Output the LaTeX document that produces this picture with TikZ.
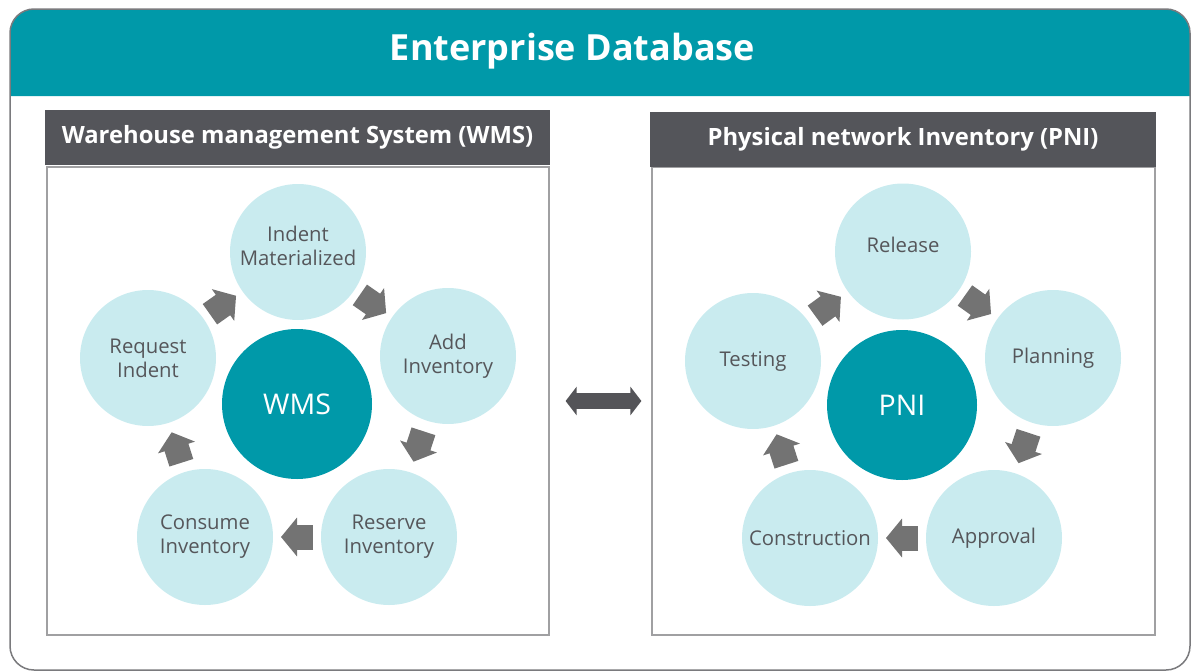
\documentclass[tikz,border=0pt]{standalone}
\usepackage{fontspec}
\setmainfont{Open Sans}
\usetikzlibrary{arrows.meta,calc}

\definecolor{dbteal}{HTML}{0099A9}
\definecolor{stagefill}{HTML}{C9EBEF}
\definecolor{stagetext}{HTML}{55565A}
\definecolor{headgray}{HTML}{54555A}
\definecolor{flowgray}{HTML}{737373}
\definecolor{linkgray}{HTML}{545458}
\definecolor{framegray}{HTML}{7A7A7D}
\definecolor{boxgray}{HTML}{A0A0A2}

\begin{document}
\begin{tikzpicture}[x=1pt,y=-1pt,
  stagefont/.style={align=center, text=stagetext,
    font=\fontsize{20.3}{24}\selectfont},
  stage/.style={circle, fill=stagefill, minimum size=136pt, inner sep=0pt,
    stagefont},
  % circles whose caption sits a little above the centre
  lifted/.style={label={[stagefont, yshift=6.5pt]center:{#1}}},
  hub/.style={circle, fill=dbteal, minimum size=150pt, inner sep=0pt,
    text=white, font=\fontsize{28.5}{32}\selectfont},
  flow/.style={draw=flowgray, line width=25pt,
    -{Triangle[length=16pt,width=38pt]}},
  link/.style={draw=linkgray, line width=16pt,
    {Triangle[length=11pt,width=28pt]}-{Triangle[length=11pt,width=28pt]}},
  panel/.style={draw=boxgray, line width=1.2pt, inner sep=0pt,
    minimum width=#1, minimum height=468pt},
  panelhead/.style={fill=headgray, text=white, inner sep=0pt,
    minimum width=#1, minimum height=55pt,
    font=\bfseries\fontsize{23.8}{28}\selectfont}
]
\useasboundingbox (0,0) rectangle (1197,672);

% outer frame with teal title band
\fill[dbteal] (10,96) [rounded corners=24pt] -- (10,9) -- (1190,9)
  [sharp corners] -- (1190,96) -- cycle;
\draw[framegray, line width=1.5pt, rounded corners=24pt] (10,9) rectangle (1190,670);
\node[text=white, font=\bfseries\fontsize{36}{42}\selectfont] (title)
  at (572.5,51) {Enterprise Database};

% left panel: warehouse management
\node[panel=502pt] (wmsbox) at (298,401) {};
\node[panelhead=505pt] (wmshead) at (297.5,137.5)
  {Warehouse management System (WMS)};

\node[hub] (wms) at (297,404) {WMS};
\node[stage, lifted={Indent\\Materialized}] (ind) at (298,252) {};
\node[stage] (add) at (448,356) {Add\\Inventory};
\node[stage] (res) at (389,537) {Reserve\\Inventory};
\node[stage] (con) at (205,537) {Consume\\Inventory};
\node[stage] (req) at (148,358) {Request\\Indent};

\foreach \a/\b in {req/ind, ind/add, add/res, res/con, con/req}
  \draw[flow] ($(\a)!0.5!(\b)!16pt!(\a)$) -- ($(\a)!0.5!(\b)!16pt!(\b)$);

% right panel: physical network inventory
\node[panel=503pt] (pnibox) at (903.5,401) {};
\node[panelhead=506pt] (pnihead) at (903,139.5)
  {Physical network Inventory (PNI)};

\node[hub] (pni) at (902,405) {PNI};
\node[stage, lifted={Release}] (rel) at (903,251.5) {};
\node[stage] (pla) at (1053,358) {Planning};
\node[stage] (app) at (994,538) {Approval};
\node[stage] (cst) at (810,538) {Construction};
\node[stage] (tst) at (753,361) {Testing};

\foreach \a/\b in {tst/rel, rel/pla, pla/app, app/cst, cst/tst}
  \draw[flow] ($(\a)!0.5!(\b)!16pt!(\a)$) -- ($(\a)!0.5!(\b)!16pt!(\b)$);

% two-way link between the systems
\draw[link, shorten <=16pt, shorten >=10pt] (wmsbox.east) -- (pnibox.west);
\end{tikzpicture}
\end{document}
